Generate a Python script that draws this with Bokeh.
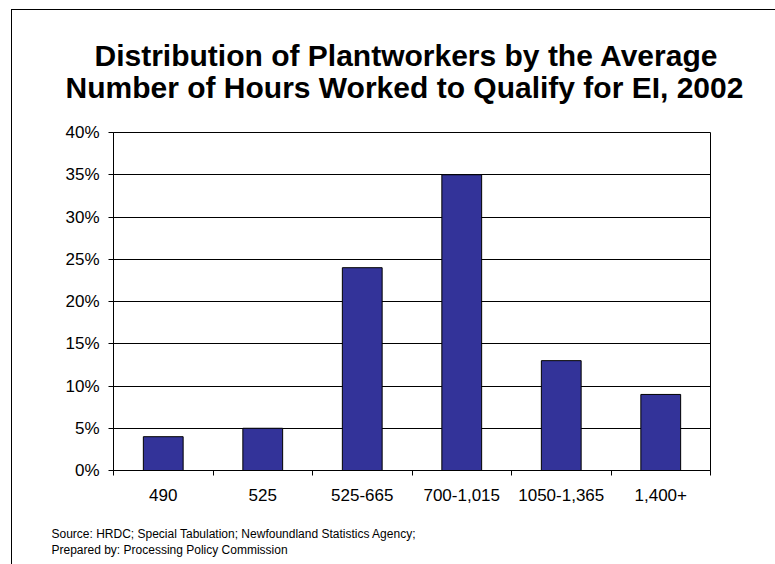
from bokeh.plotting import figure
from bokeh.models import (Range1d, FixedTicker, NumeralTickFormatter, Title,
                          ColumnDataSource, InlineStyleSheet)
from bokeh.embed import file_html
from bokeh.resources import INLINE

# Hours-worked bands and share of plantworkers in each band
categories = ["490", "525", "525-665", "700-1,015", "1050-1,365", "1,400+"]
shares = [0.04, 0.05, 0.24, 0.35, 0.13, 0.09]
y_ticks = [0.0, 0.05, 0.10, 0.15, 0.20, 0.25, 0.30, 0.35, 0.40]

title_lines = ["Distribution of Plantworkers by the Average",
               "Number of Hours Worked to Qualify for EI, 2002"]
source_lines = ["Source: HRDC; Special Tabulation; Newfoundland Statistics Agency;",
                "Prepared by: Processing Policy Commission"]

FONT = "Liberation Sans"
n = len(categories)
centers = [i + 0.5 for i in range(n)]

# plot frame placement on the canvas (pixels)
W, H = 775, 564
F_LEFT, F_RIGHT, F_TOP, F_BOTTOM = 113, 710, 132, 470
Y_MAX = 0.40

p = figure(width=W, height=H, output_backend="svg", toolbar_location=None,
           title=None,
           x_range=Range1d(0, n), y_range=Range1d(0, Y_MAX),
           min_border_left=F_LEFT, min_border_right=W - F_RIGHT,
           min_border_top=F_TOP, min_border_bottom=H - F_BOTTOM)
p.background_fill_color = "white"
p.border_fill_color = "white"
p.outline_line_color = "black"
p.outline_line_width = 1

# slide frame along the left and top edges, drawn over the canvas;
# a white strip keeps the far right column clean
p.stylesheets = [InlineStyleSheet(css="""
:host { overflow: hidden; }
:host::after {
  content: "";
  position: absolute;
  left: 11px;
  top: 9px;
  width: 763px;
  height: 560px;
  border-left: 1px solid #000;
  border-top: 1px solid #000;
  pointer-events: none;
  z-index: 10;
}
:host::before {
  content: "";
  position: absolute;
  left: 772px;
  top: 10px;
  width: 3px;
  height: 554px;
  background: #fff;
  pointer-events: none;
  z-index: 11;
}
""")]

src = ColumnDataSource(dict(x=centers, top=shares, label=categories))
p.vbar(x="x", top="top", bottom=0, width=0.4, source=src,
       fill_color="#333399", line_color="black", line_width=1)

# y axis: percentages every 5%
p.yaxis.ticker = FixedTicker(ticks=y_ticks)
p.yaxis.formatter = NumeralTickFormatter(format="0%")
p.yaxis.major_tick_in = 0
p.yaxis.major_tick_out = 5
p.yaxis.minor_tick_line_color = None
p.yaxis.major_label_standoff = 9
p.yaxis.major_label_text_font = FONT
p.yaxis.major_label_text_font_size = "17px"
p.yaxis.major_label_text_color = "black"
p.yaxis.axis_line_color = "black"
p.yaxis.major_tick_line_color = "black"

# x axis: labels centred in each band, ticks on the band boundaries
p.xaxis.ticker = FixedTicker(ticks=centers, minor_ticks=list(range(n + 1)))
p.xaxis.major_label_overrides = {c: lab for c, lab in zip(centers, categories)}
p.xaxis.major_tick_line_color = None
p.xaxis.minor_tick_in = 0
p.xaxis.minor_tick_out = 5
p.xaxis.minor_tick_line_color = "black"
p.xaxis.major_label_standoff = 12
p.xaxis.major_label_text_font = FONT
p.xaxis.major_label_text_font_size = "17px"
p.xaxis.major_label_text_color = "black"
p.xaxis.axis_line_color = "black"

p.xgrid.grid_line_color = None
p.ygrid.grid_line_color = "black"
p.ygrid.grid_line_width = 1
p.ygrid.ticker = FixedTicker(ticks=y_ticks)

# Two-line title: the line nearest the frame is added first
p.add_layout(Title(text=title_lines[1], align="left", offset=-48, standoff=57,
                   text_font=FONT, text_font_style="bold", text_font_size="30px",
                   text_color="black"), "above")
p.add_layout(Title(text=title_lines[0], align="left", offset=-19, standoff=-63,
                   text_font=FONT, text_font_style="bold", text_font_size="30px",
                   text_color="black"), "above")

# Source notes under the axis (a blank first line keeps them low on the page)
p.add_layout(Title(text="\n".join(["\u00a0"] + source_lines), align="left",
                   offset=-62, standoff=11, text_font=FONT,
                   text_font_style="normal", text_font_size="12px",
                   text_line_height=1.15, text_color="black"), "below")

open("out.html", "w").write(file_html(p, INLINE))
